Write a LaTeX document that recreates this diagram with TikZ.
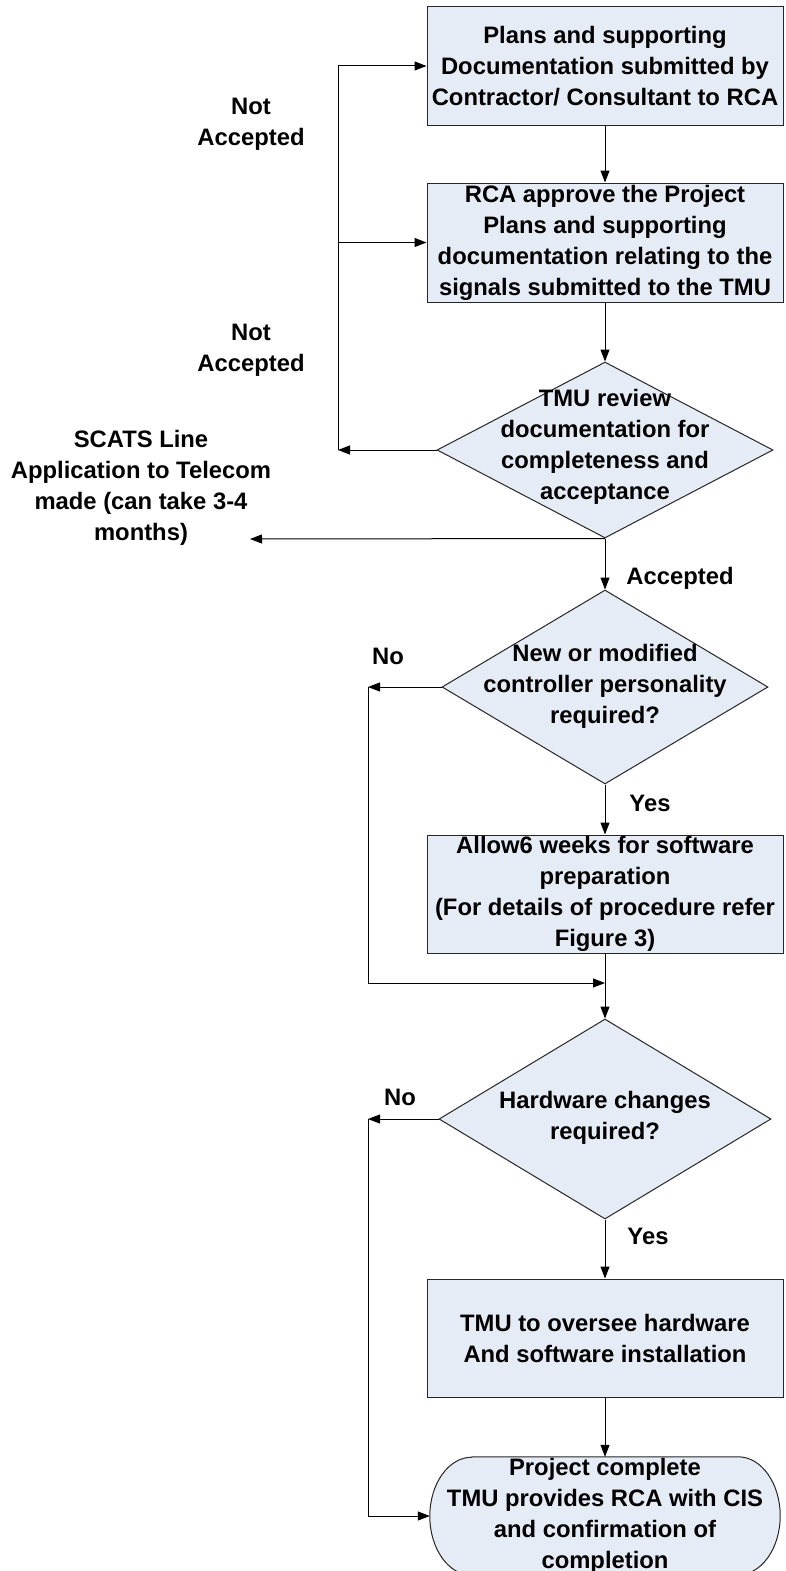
\documentclass[tikz,border=0pt]{standalone}
\usepackage{fontspec}
\setmainfont{Liberation Sans}
\usetikzlibrary{arrows.meta,shapes.geometric}
\definecolor{boxfill}{RGB}{230,236,246}
\begin{document}
\begin{tikzpicture}[x=1pt,y=1pt,
  every node/.style={font=\bfseries\fontsize{23.8}{31}\selectfont, inner sep=0pt},
  box/.style={draw=black!85, fill=boxfill, line width=1pt, minimum width=356pt, minimum height=118pt, align=center},
  dia/.style={diamond, draw=black!85, fill=boxfill, line width=1pt},
  txt/.style={align=center},
  link/.style={line width=1pt},
  arr/.style={line width=1pt, -{Triangle[length=12pt,width=9pt]}}]
\useasboundingbox (0,0) rectangle (786,-1571);

% process boxes
\node[box] (b1) at (605,-66) {Plans and supporting\\Documentation submitted by\\Contractor/ Consultant to RCA};
\node[box, minimum height=119pt] (b2) at (605,-242.5) {RCA approve the Project\\Plans and supporting\\documentation relating to the\\signals submitted to the TMU};

% decision: documentation review
\node[dia, minimum width=336pt, minimum height=176pt] (d1) at (605,-450) {};
\node[txt] (d1t) at (605,-447) {TMU review\\documentation for\\completeness and\\acceptance};

% decision: controller personality
\node[dia, minimum width=326pt, minimum height=194pt] (d2) at (605,-687) {};
\node[txt] (d2t) at (605,-686) {New or modified\\controller personality\\required?};

\node[box] (b3) at (605,-894) {Allow6 weeks for software\\preparation\\(For details of procedure refer\\Figure 3)};

% decision: hardware
\node[dia, minimum width=332pt, minimum height=200pt] (d3) at (605,-1119) {};
\node[txt] (d3t) at (605,-1118) {Hardware changes\\required?};

\node[box] (b4) at (605,-1338) {TMU to oversee hardware\\And software installation};

% terminator with elliptical ends
\node[minimum width=350pt, minimum height=118pt, align=center] (t) at (605,-1516) {};
\draw[draw=black!85, fill=boxfill, line width=1pt]
  ([xshift=42pt]t.north west) -- ([xshift=-42pt]t.north east)
  arc[start angle=90, end angle=-90, x radius=42pt, y radius=59pt]
  -- ([xshift=42pt]t.south west)
  arc[start angle=270, end angle=90, x radius=42pt, y radius=59pt] -- cycle;
\node[align=center] (tt) at (t.center) {Project complete\\TMU provides RCA with CIS\\and confirmation of\\completion};

% side labels
\node[txt] (na1) at (251,-124) {Not\\Accepted};
\node[txt] (na2) at (251,-350) {Not\\Accepted};
\node[txt] (acc) at (680,-578) {Accepted};
\node[txt] (no1) at (388,-656) {No};
\node[txt] (yes1) at (650,-803) {Yes};
\node[txt] (no2) at (400,-1097) {No};
\node[txt] (yes2) at (648,-1236) {Yes};
\node[txt] (scats) at (141,-488) {SCATS Line\\Application to Telecom\\made (can take 3-4\\months)};

% routing points
\coordinate (rejTop) at (338,-66);
\coordinate (rejMid) at (rejTop |- b2.west);
\coordinate (rejBot) at (rejTop |- d1.west);
\coordinate (telecom) at (250,-539);
\coordinate (noA) at (368,-687);
\coordinate (noAend) at (368,-983);
\coordinate (joinA) at (605,-983);
\coordinate (noB) at (noA |- d3.west);
\coordinate (noBend) at (noA |- t.west);

% main flow
\draw[arr] (b1) -- (b2);
\draw[arr] (b2) -- (d1.north);
\draw[arr] (d1.south) -- (d2.north);
\draw[arr] (d2.south) -- (b3.north);
\draw[arr] (b3.south) -- (d3.north);
\draw[arr] (d3.south) -- (b4.north);
\draw[arr] (b4.south) -- (t.north);

% rejection loop
\draw[arr] (d1.west) -- (rejBot);
\draw[link] (rejBot) -- (rejTop);
\draw[arr] (rejTop) -- (b1.west);
\draw[arr] (rejMid) -- (b2.west);

% telecom application
\draw[arr] (d1.south) -- (telecom);

% bypass branches
\draw[arr] (d2.west) -- (noA);
\draw[link] (noA) -- (noAend);
\draw[arr] (noAend) -- (joinA);
\draw[arr] (d3.west) -- (noB);
\draw[link] (noB) -- (noBend);
\draw[arr] (noBend) -- (t.west);
\end{tikzpicture}
\end{document}
